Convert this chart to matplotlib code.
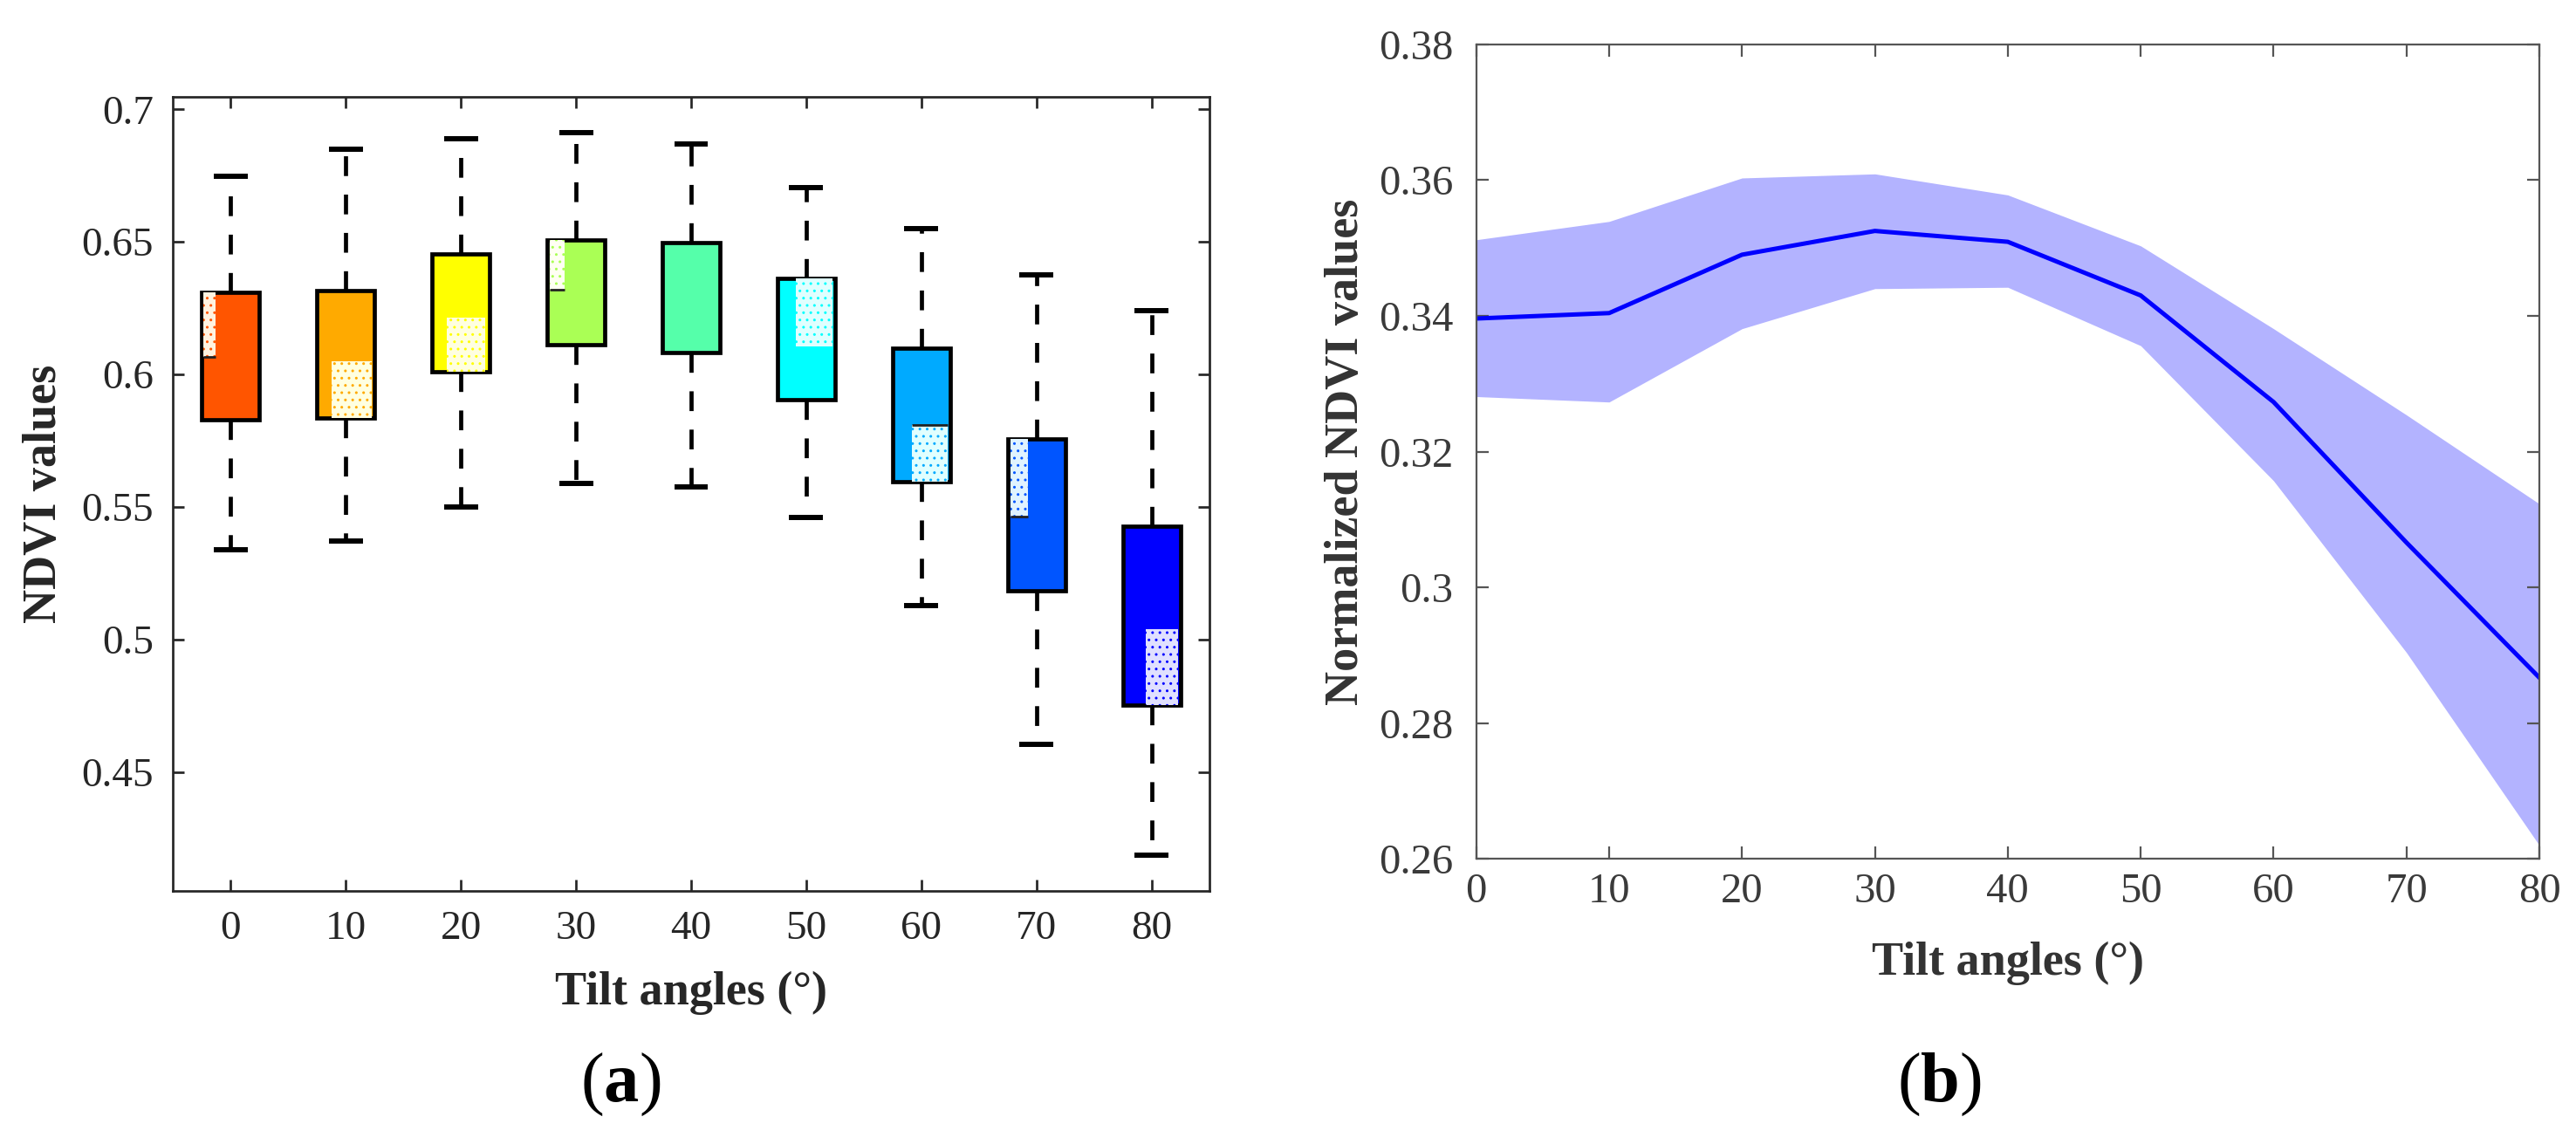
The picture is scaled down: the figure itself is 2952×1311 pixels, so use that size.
import matplotlib
matplotlib.use("Agg")
import matplotlib.pyplot as plt
from matplotlib.patches import Rectangle
from matplotlib.colors import to_rgb
import numpy as np

plt.rcParams['font.family'] = ['Liberation Serif', 'DejaVu Serif']
plt.rcParams['mathtext.fontset'] = 'custom'
plt.rcParams['mathtext.rm'] = 'Liberation Serif'
plt.rcParams['mathtext.bf'] = 'Liberation Serif:bold'
plt.rcParams['hatch.linewidth'] = 1.0

# ---------------- data: panel (a) ----------------
tilt_angles = [0, 10, 20, 30, 40, 50, 60, 70, 80]
whisker_low = [0.5337, 0.5370, 0.5500, 0.5590, 0.5574, 0.5461, 0.5128, 0.4605, 0.4187]
q1_values = [0.5830, 0.5835, 0.6009, 0.6111, 0.6083, 0.5904, 0.5596, 0.5183, 0.4751]
median_values = [0.6065, 0.6050, 0.6215, 0.6320, 0.6290, 0.6105, 0.5810, 0.5465, 0.5040]
q3_values = [0.6309, 0.6317, 0.6455, 0.6507, 0.6496, 0.6361, 0.6100, 0.5758, 0.5428]
whisker_high = [0.6748, 0.6849, 0.6890, 0.6912, 0.6868, 0.6703, 0.6551, 0.6375, 0.6240]
box_colors = ['#FF5500', '#FFAA00', '#FFFF00', '#AAFF55', '#55FFAA',
              '#00FFFF', '#00AAFF', '#0055FF', '#0000FF']
yticks_a = [0.45, 0.5, 0.55, 0.6, 0.65, 0.7]
ytick_labels_a = ['0.45', '0.5', '0.55', '0.6', '0.65', '0.7']

# rendering artefacts of the original (light dotted strips between median and a quartile)
strip_side = ['q3', 'q1', 'q1', 'q3', None, 'q3', 'q1', 'q3', 'q1']
strip_x = [(-0.238, -0.134), (-0.123, 0.228), (-0.119, 0.21), (-0.228, -0.102), None,
           (-0.088, 0.228), (-0.084, 0.225), (-0.228, -0.074), (-0.05, 0.23)]
median_visible = [True, False, False, True, False, False, True, True, False]

# ---------------- data: panel (b) ----------------
angles_b = [0, 10, 20, 30, 40, 50, 60, 70, 80]
mean_b = [0.3396, 0.3404, 0.3490, 0.3525, 0.3509, 0.3430, 0.3273, 0.3066, 0.2867]
upper_b = [0.3512, 0.3539, 0.3603, 0.3609, 0.3578, 0.3503, 0.3381, 0.3254, 0.3123]
lower_b = [0.3281, 0.3273, 0.3381, 0.3440, 0.3442, 0.3356, 0.3157, 0.2904, 0.2620]
yticks_b = [0.26, 0.28, 0.30, 0.32, 0.34, 0.36, 0.38]
ytick_labels_b = ['0.26', '0.28', '0.3', '0.32', '0.34', '0.36', '0.38']

W, H = 2952, 1311
fig = plt.figure(figsize=(W / 100, H / 100), dpi=100)

# ---------------- panel (a) ----------------
axa = fig.add_axes([198.3 / W, 1 - 1021.3 / H, (1385.7 - 198.3) / W, (1021.3 - 111) / H])
positions = np.arange(1, len(tilt_angles) + 1)
stats = []
for i in range(len(tilt_angles)):
    stats.append(dict(whislo=whisker_low[i], q1=q1_values[i], med=median_values[i],
                      q3=q3_values[i], whishi=whisker_high[i], fliers=[]))
lw_box = 3.4
bp = axa.bxp(stats, positions=positions, widths=0.5, patch_artist=True,
             showfliers=False,
             boxprops=dict(linewidth=lw_box, edgecolor='black'),
             whiskerprops=dict(linewidth=lw_box, color='black', linestyle=(0, (4.8, 4.5))),
             capprops=dict(linewidth=4.3, color='black'),
             medianprops=dict(linewidth=0, color='none'))
for patch, c in zip(bp['boxes'], box_colors):
    patch.set_facecolor(c)
    patch.set_zorder(2)
for w in bp['whiskers']:
    w.set_zorder(1.5)

for i in range(len(tilt_angles)):
    if strip_side[i] is None:
        continue
    x0, x1 = strip_x[i]
    m = median_values[i]
    other = q3_values[i] if strip_side[i] == 'q3' else q1_values[i]
    lo, hi = min(m, other), max(m, other)
    base = np.array(to_rgb(box_colors[i]))
    light = np.clip(0.78 * np.ones(3) + 0.22 * base + 0.1, 0, 1)
    axa.add_patch(Rectangle((positions[i] + x0, lo), x1 - x0, hi - lo,
                            facecolor=light, edgecolor=box_colors[i], linewidth=0,
                            hatch='..', zorder=2.5))
    if median_visible[i]:
        axa.plot([positions[i] + x0, positions[i] + x1], [m, m], color='#222222',
                 linewidth=2.0, zorder=2.6, solid_capstyle='butt')

axa.set_xlim(0.5, 9.5)
axa.set_ylim(0.405, 0.7047)
axa.set_xticks(positions)
axa.set_xticklabels([str(a) for a in tilt_angles])
axa.set_yticks(yticks_a)
axa.set_yticklabels(ytick_labels_a)
for s in axa.spines.values():
    s.set_linewidth(1.95)
    s.set_color('#262626')
axa.tick_params(direction='in', length=9.4, width=1.95, color='#262626',
                top=True, right=True, labelsize=34, labelcolor='#262626', pad=16)
axa.set_xlabel('Tilt angles (°)', fontsize=39, fontweight='bold', color='#262626')
axa.set_ylabel('NDVI values', fontsize=39, fontweight='bold', color='#262626')
axa.xaxis.set_label_coords(0.5, -(1113 - 1021.3) / 910.3)
axa.yaxis.set_label_coords((76 - 198.3) / 1187.4, 0.5)

# ---------------- panel (b) ----------------
axb = fig.add_axes([1691.7 / W, 1 - 984.3 / H, (2910 - 1691.7) / W, (984.3 - 50.7) / H])
axb.fill_between(angles_b, lower_b, upper_b, color='#B3B3FF', linewidth=0, zorder=1)
axb.plot(angles_b, mean_b, color='#0000FF', linewidth=3.6, zorder=2)
axb.set_xlim(0, 80)
axb.set_ylim(0.26, 0.38)
axb.set_xticks(angles_b)
axb.set_xticklabels([str(a) for a in angles_b])
axb.set_yticks(yticks_b)
axb.set_yticklabels(ytick_labels_b)
for s in axb.spines.values():
    s.set_linewidth(1.6)
    s.set_color('#555555')
axb.tick_params(direction='in', length=10, width=1.6, color='#555555',
                top=True, right=True, labelsize=35, labelcolor='#3a3a3a')
axb.tick_params(axis='y', pad=19)
axb.tick_params(axis='x', pad=11)
axb.set_xlabel('Tilt angles (°)', fontsize=39, fontweight='bold', color='#333333')
axb.set_ylabel('Normalized NDVI values', fontsize=39, fontweight='bold', color='#333333')
axb.xaxis.set_label_coords(0.5, -(1079 - 984.3) / 933.6)
axb.yaxis.set_label_coords((1568 - 1691.7) / 1218.3, 0.5)

# ---------------- panel letters ----------------
fig.text(711 / W, 1 - 1262 / H, r'($\mathbf{a}$)', fontsize=58, ha='center',
         va='baseline', color='black')
fig.text(2222 / W, 1 - 1262 / H, r'($\mathbf{b}$)', fontsize=58, ha='center',
         va='baseline', color='black')

fig.savefig('out.png', dpi=100, facecolor='white')
